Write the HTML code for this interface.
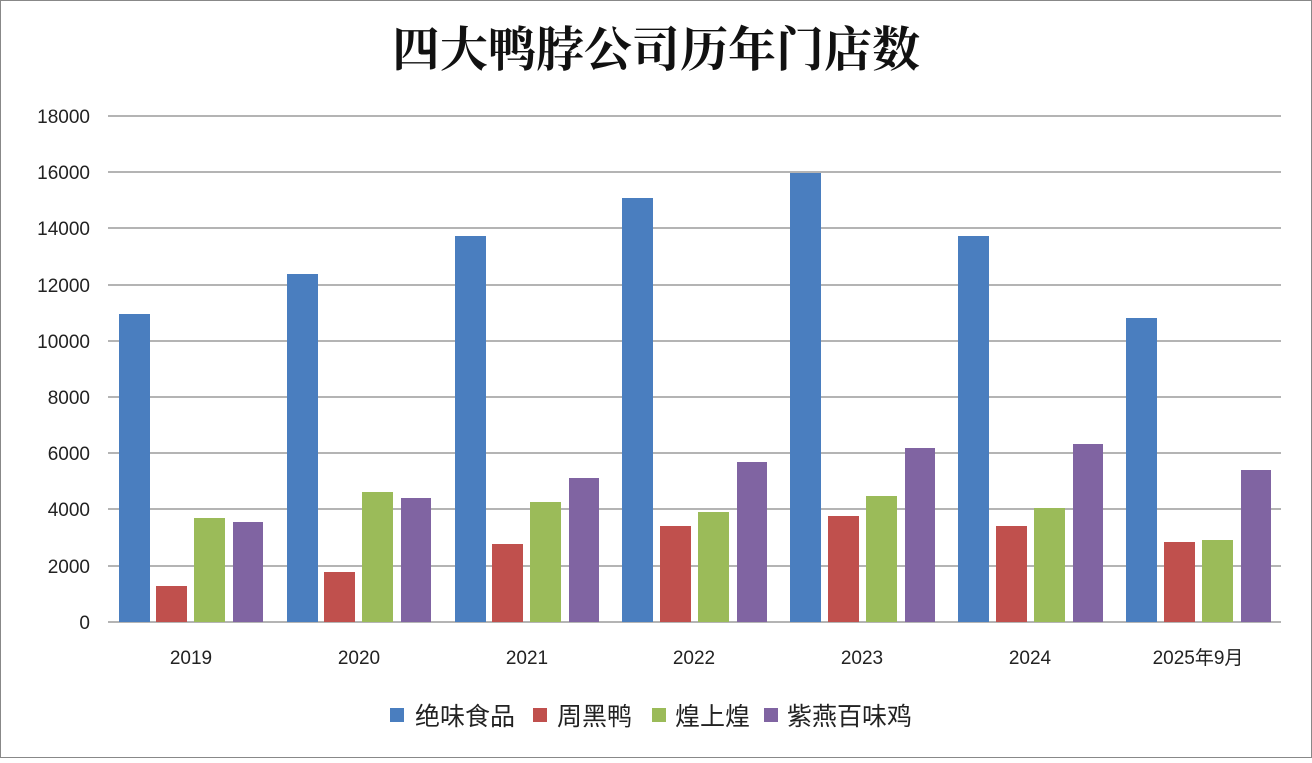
<!DOCTYPE html>
<html><head><meta charset="utf-8"><style>
body{margin:0;width:1312px;height:758px;background:#fff;overflow:hidden}
</style></head><body>
<svg width="1312" height="758" xmlns="http://www.w3.org/2000/svg" font-family="Liberation Sans, Noto Sans CJK SC, sans-serif">
<rect x="0.5" y="0.5" width="1311" height="757" fill="#fff" stroke="#888"/>
<text x="656" y="66" text-anchor="middle" font-family="Noto Serif CJK SC, serif" font-weight="bold" font-size="48" fill="#111">四大鸭脖公司历年门店数</text>
<g stroke="#888" stroke-width="1.3">
<line x1="108" y1="116" x2="1281" y2="116"/><line x1="108" y1="172" x2="1281" y2="172"/>
<line x1="108" y1="228" x2="1281" y2="228"/><line x1="108" y1="285" x2="1281" y2="285"/>
<line x1="108" y1="341" x2="1281" y2="341"/><line x1="108" y1="397" x2="1281" y2="397"/>
<line x1="108" y1="453" x2="1281" y2="453"/><line x1="108" y1="509" x2="1281" y2="509"/>
<line x1="108" y1="566" x2="1281" y2="566"/><line x1="108" y1="622" x2="1281" y2="622"/>
</g>
<g font-size="19" fill="#222" text-anchor="end">
<text x="90" y="123">18000</text><text x="90" y="179">16000</text><text x="90" y="235">14000</text>
<text x="90" y="292">12000</text><text x="90" y="348">10000</text><text x="90" y="404">8000</text>
<text x="90" y="460">6000</text><text x="90" y="516">4000</text><text x="90" y="573">2000</text><text x="90" y="629">0</text>
</g>
<g>
<rect x="119" y="314" width="31" height="308" fill="#4a7ebf"/><rect x="156" y="586" width="31" height="36" fill="#c0504d"/><rect x="194" y="518" width="31" height="104" fill="#9bbb59"/><rect x="233" y="522" width="30" height="100" fill="#8064a2"/>
<rect x="287" y="274" width="31" height="348" fill="#4a7ebf"/><rect x="324" y="572" width="31" height="50" fill="#c0504d"/><rect x="362" y="492" width="31" height="130" fill="#9bbb59"/><rect x="401" y="498" width="30" height="124" fill="#8064a2"/>
<rect x="455" y="236" width="31" height="386" fill="#4a7ebf"/><rect x="492" y="544" width="31" height="78" fill="#c0504d"/><rect x="530" y="502" width="31" height="120" fill="#9bbb59"/><rect x="569" y="478" width="30" height="144" fill="#8064a2"/>
<rect x="622" y="198" width="31" height="424" fill="#4a7ebf"/><rect x="660" y="526" width="31" height="96" fill="#c0504d"/><rect x="698" y="512" width="31" height="110" fill="#9bbb59"/><rect x="737" y="462" width="30" height="160" fill="#8064a2"/>
<rect x="790" y="173" width="31" height="449" fill="#4a7ebf"/><rect x="828" y="516" width="31" height="106" fill="#c0504d"/><rect x="866" y="496" width="31" height="126" fill="#9bbb59"/><rect x="905" y="448" width="30" height="174" fill="#8064a2"/>
<rect x="958" y="236" width="31" height="386" fill="#4a7ebf"/><rect x="996" y="526" width="31" height="96" fill="#c0504d"/><rect x="1034" y="508" width="31" height="114" fill="#9bbb59"/><rect x="1073" y="444" width="30" height="178" fill="#8064a2"/>
<rect x="1126" y="318" width="31" height="304" fill="#4a7ebf"/><rect x="1164" y="542" width="31" height="80" fill="#c0504d"/><rect x="1202" y="540" width="31" height="82" fill="#9bbb59"/><rect x="1241" y="470" width="30" height="152" fill="#8064a2"/>
</g>
<g font-size="19" fill="#222" text-anchor="middle">
<text x="191" y="664">2019</text><text x="359" y="664">2020</text><text x="527" y="664">2021</text>
<text x="694" y="664">2022</text><text x="862" y="664">2023</text><text x="1030" y="664">2024</text><text x="1198" y="664">2025年9月</text>
</g>
<g font-size="25" fill="#222">
<rect x="390" y="708" width="14" height="14" fill="#4a7ebf"/><text x="415" y="725">绝味食品</text>
<rect x="533" y="708" width="14" height="14" fill="#c0504d"/><text x="557" y="725">周黑鸭</text>
<rect x="652" y="708" width="14" height="14" fill="#9bbb59"/><text x="675" y="725">煌上煌</text>
<rect x="764" y="708" width="14" height="14" fill="#8064a2"/><text x="787" y="725">紫燕百味鸡</text>
</g>
</svg>
</body></html>
